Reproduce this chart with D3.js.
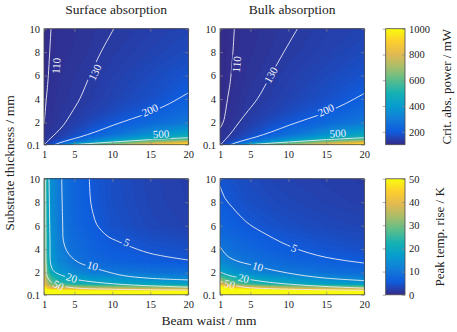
<!DOCTYPE html>
<html>
<head>
<meta charset="utf-8">
<script src="https://cdn.jsdelivr.net/npm/d3@7"></script>
<style>
  body { margin: 0; background: #fff; }
  svg { display: block; }
  text { font-family: 'Liberation Serif', 'Times New Roman', serif; fill: #222; }
</style>
</head>
<body>
<svg id="svg" width="457" height="332"></svg>
<script>
// ---- data ----
// sample grid: beam waist (mm) x substrate thickness (mm), rows from thinnest substrate up
const waist = [1, 1.5, 2, 3, 5, 7.5, 10, 15, 20];
const thick = [0.1, 0.3, 0.6, 1, 2, 3, 4, 6, 8, 10];

// critical absorbed power (mW), surface absorption
const surfPower = [
  128, 155, 180, 240, 480, 600, 680, 840, 980,
  126, 142, 160, 195, 290, 400, 510, 680, 790,
  122, 128, 133, 150, 203, 280, 350, 470, 545,
  118, 123, 127, 137, 165, 210, 260, 360, 450,
  109, 115, 120, 126, 140, 166, 190, 240, 290,
  107, 113, 117, 123, 131, 146, 162, 198, 240,
  105, 111, 115, 120, 127, 137, 150, 175, 210,
  104, 108, 113, 117, 124, 132, 142, 162, 184,
  102, 106, 111, 114, 119, 126, 134, 149, 164,
  102, 106, 110, 113, 117, 123, 129, 141, 152
];
// critical absorbed power (mW), bulk absorption
const bulkPower = [
  128, 155, 180, 240, 480, 600, 680, 840, 980,
  126, 140, 158, 195, 290, 400, 510, 680, 790,
  121, 126, 131, 148, 203, 280, 350, 470, 545,
  116, 120, 124, 135, 165, 210, 260, 360, 450,
  107, 111, 115, 123, 140, 166, 190, 240, 290,
  104, 108, 112, 118, 131, 146, 162, 198, 240,
  103, 106, 110, 115, 128, 137, 150, 175, 208,
  102, 105, 108, 112, 121, 130, 140, 160, 182,
  101, 104, 107, 111, 117, 124, 132, 147, 162,
  101, 104, 106, 110, 115, 121, 127, 140, 150
];
// peak temperature rise (K), surface absorption
const surfTemp = [
  100, 90, 85, 80, 78, 76, 75, 74, 73,
  75, 66, 62, 60, 58, 56, 55, 54, 53,
  52, 44, 42, 40, 39, 38, 38, 37, 36,
  42, 34, 30, 26, 23, 21, 20, 19, 18,
  36, 26, 20, 16, 13, 11, 10.4, 9.6, 9.0,
  33, 22, 16.5, 12.8, 9.6, 7.6, 6.5, 5.6, 5.0,
  31, 20.5, 15.5, 11.8, 8.4, 6.5, 5.5, 4.6, 4.1,
  30, 19.5, 14.5, 10.8, 7.4, 5.5, 4.3, 3.2, 2.6,
  29, 19, 14, 10.6, 7.1, 5.1, 4.0, 2.9, 2.3,
  29, 19, 14, 10.5, 7.0, 5.0, 3.9, 2.8, 2.2
];
// peak temperature rise (K), bulk absorption
const bulkTemp = [
  110, 105, 100, 95, 90, 85, 82, 78, 75,
  85, 80, 76, 72, 68, 64, 61, 58, 55,
  58, 54, 51, 48, 45, 42, 40, 38, 36,
  40, 36, 33, 29, 25, 22, 20.5, 18.5, 17,
  19.5, 18, 17, 15.3, 13.3, 11.6, 10.5, 9.0, 8.2,
  13.5, 12.5, 11.8, 10.7, 9.3, 8.0, 7.1, 6.1, 5.4,
  10.4, 9.8, 9.3, 8.4, 7.3, 6.3, 5.6, 4.7, 4.1,
  7.0, 6.6, 6.3, 5.8, 5.0, 4.4, 3.9, 3.3, 2.9,
  5.6, 5.3, 5.1, 4.6, 4.0, 3.5, 3.1, 2.6, 2.2,
  4.9, 4.6, 4.4, 4.0, 3.5, 3.0, 2.7, 2.2, 1.9
];

// contour lines [waist, thickness]
const surfPowerLines = [
  {level: 110, pts: [[1,1.9],[1.12,2.6],[1.3,4],[1.45,5],[1.57,6],[1.75,8],[1.92,10]]},
  {level: 130, pts: [[1.05,0.1],[1.4,0.35],[1.8,0.6],[2.6,1.1],[3.55,1.76],[4.6,2.8],[5.74,4.05],[7.06,6.05],[8.5,8],[10.2,10]]},
  {level: 200, pts: [[2.4,0.1],[3.1,0.27],[4.3,0.5],[5.74,0.76],[7.8,1.2],[10.1,1.76],[12.5,2.3],[14.95,2.85],[17.5,3.6],[20,4.53]]},
  {level: 500, pts: [[4.9,0.1],[7,0.2],[10.1,0.33],[15,0.53],[20,0.7]]}
];
const bulkPowerLines = [
  {level: 110, pts: [[1,1.5],[1.44,2.05],[1.75,3],[2.0,4.05],[2.25,5],[2.45,6.05],[2.7,8],[2.89,10]]},
  {level: 130, pts: [[1.1,0.1],[1.5,0.4],[2.0,0.75],[2.7,1.3],[3.55,2.05],[4.7,3],[5.96,4.05],[7.7,6.05],[9.4,8],[11.2,10]]},
  {level: 200, pts: [[2.4,0.1],[3.1,0.27],[4.3,0.5],[5.74,0.76],[7.8,1.2],[10.1,1.76],[12.5,2.3],[14.95,2.85],[17.5,3.6],[20,4.48]]},
  {level: 500, pts: [[4.9,0.1],[7,0.2],[10.1,0.33],[15,0.53],[20,0.7]]}
];
const surfTempLines = [
  {level: 5, pts: [[6.97,10],[7.14,8.1],[7.49,6.97],[7.93,6.12],[8.59,5.56],[9.47,5.05],[10.57,4.71],[11.88,4.34],[14.95,3.64],[20,3.07]]},
  {level: 10, pts: [[3.33,10],[3.46,6.12],[3.55,4.71],[3.98,3.86],[4.64,3.3],[5.52,2.87],[7.06,2.5],[9.25,2.08],[11.44,1.74],[14.95,1.51],[20,1.37]]},
  {level: 20, pts: [[1.66,10],[1.79,4.71],[1.88,2.73],[2.23,2.16],[2.89,1.88],[4.86,1.46],[7.06,1.23],[11.44,0.98],[20,0.75]]},
  {level: 50, pts: [[1.22,10],[1.25,5],[1.28,2.5],[1.4,1.7],[1.83,1.25],[2.7,0.95],[4.86,0.7],[11.44,0.56],[20,0.5]]}
];
const bulkTempLines = [
  {level: 5, pts: [[1,9.37],[1.7,8.3],[2.67,7.54],[3.7,6.8],[4.86,6.12],[7.06,5.27],[9,4.6],[10.8,4.09],[12.8,3.65],[14.95,3.3],[17.5,3.02],[20,2.81]]},
  {level: 10, pts: [[1,4.2],[1.5,3.75],[2.1,3.35],[3.37,2.95],[4.86,2.7],[6,2.5],[8.4,2.15],[11.4,1.8],[15,1.52],[20,1.31]]},
  {level: 20, pts: [[1,2.05],[2.2,1.75],[4,1.5],[6.5,1.25],[8.64,1.09],[14,0.84],[20,0.67]]},
  {level: 50, pts: [[1,1.25],[1.6,1.12],[2.28,1.02],[3.5,0.82],[5,0.7],[10,0.58],[20,0.48]]}
];

// contour labels [level, waist, thickness]
const surfPowerLabels = [[110,2.62,6.84],[130,7.71,6.28],[200,14.96,3.05],[500,16.4,1.0]];
const bulkPowerLabels = [[110,3.2,6.96],[130,7.71,6.05],[200,14.96,3.05],[500,16.5,1.06]];
const surfTempLabels = [[5,11.89,4.57],[10,7.41,2.59],[20,4.65,1.54],[50,2.88,0.89]];
const bulkTempLabels = [[5,10.78,4.09],[10,5.96,2.5],[20,4.1,1.51],[50,2.25,1.0]];

const waistTicks = [1, 5, 10, 15, 20];
const thickTicks = [0.1, 2, 4, 6, 8, 10];
const powerTicks = [200, 400, 600, 800, 1000];
const tempTicks = [0, 10, 20, 30, 40, 50];
const powerRange = [100, 1000];
const tempRange = [0, 50];

const parula = ['#352a87','#0f5cdd','#127dd8','#079ccf','#15b1b4','#59bd8c','#a5be6b','#e1b952','#fcce2e','#f9fb0e'];

// ---- layout ----
const svg = d3.select('#svg');
const plotW = 144.3, plotH = 116;
const colX = [44, 220];
const rowY = [28.7, 178.8];
const cbX = 385.7, cbW = 19.3;

const parulaInterp = d3.piecewise(d3.interpolateRgb, parula);
const powerColor = d3.scaleSequential(parulaInterp).domain(powerRange).clamp(true);
const tempColor = d3.scaleSequential(parulaInterp).domain(tempRange).clamp(true);

const x = d3.scaleLinear().domain([1, 20]).range([0, plotW]);
const y = d3.scaleLinear().domain([0.1, 10]).range([plotH, 0]);
// grid index -> data value (non uniform grid)
const ix = d3.scaleLinear().domain(d3.range(waist.length)).range(waist).clamp(true);
const iy = d3.scaleLinear().domain(d3.range(thick.length)).range(thick).clamp(true);

const panels = [
  {id: 'sp', grid: surfPower, lines: surfPowerLines, labels: surfPowerLabels, color: powerColor, col: 0, row: 0},
  {id: 'bp', grid: bulkPower, lines: bulkPowerLines, labels: bulkPowerLabels, color: powerColor, col: 1, row: 0},
  {id: 'st', grid: surfTemp, lines: surfTempLines, labels: surfTempLabels, color: tempColor, col: 0, row: 1},
  {id: 'bt', grid: bulkTemp, lines: bulkTempLines, labels: bulkTempLabels, color: tempColor, col: 1, row: 1}
];

const defs = svg.append('defs');
defs.append('clipPath').attr('id', 'plotclip')
  .append('rect').attr('width', plotW).attr('height', plotH);

const proj = d3.geoTransform({
  point(a, b) { this.stream.point(x(ix(a - 0.5)), y(iy(b - 0.5))); }
});
const path = d3.geoPath(proj);
const line = d3.line().x(d => x(d[0])).y(d => y(d[1])).curve(d3.curveCatmullRom.alpha(0.5));

function styleAxis(sel) {
  sel.attr('font-family', null).attr('font-size', null);
  sel.select('.domain').remove();
  sel.selectAll('line').attr('stroke', '#8c8c8c').attr('stroke-width', 0.7);
  sel.selectAll('text').style('font-size', '10.5px').attr('fill', '#222');
}

function labelAngle(lines, lab) {
  const ln = lines.find(l => l.level === lab[0]);
  const px = x(lab[1]), py = y(lab[2]);
  let best = null, bd = Infinity;
  for (let i = 0; i < ln.pts.length - 1; i++) {
    const ax = x(ln.pts[i][0]), ay = y(ln.pts[i][1]);
    const bx = x(ln.pts[i + 1][0]), by = y(ln.pts[i + 1][1]);
    const d = Math.hypot((ax + bx) / 2 - px, (ay + by) / 2 - py);
    if (d < bd) { bd = d; best = [bx - ax, by - ay]; }
  }
  let a = Math.atan2(best[1], best[0]) * 180 / Math.PI;
  if (a > 90) a -= 180;
  if (a < -90) a += 180;
  return a;
}

panels.forEach(p => {
  const g = svg.append('g').attr('transform', `translate(${colX[p.col]},${rowY[p.row]})`);
  const body = g.append('g').attr('clip-path', 'url(#plotclip)');

  // heat map as stacked filled contour bands
  const [lo, hi] = p.color.domain();
  const step = (hi - lo) / 150;
  const thresholds = d3.range(lo, hi + step / 2, step);
  const bands = d3.contours().size([waist.length, thick.length]).thresholds(thresholds)(p.grid);
  body.selectAll('path.band').data(bands).join('path')
    .attr('class', 'band')
    .attr('d', path)
    .attr('fill', d => p.color(d.value + step / 2))
    .attr('stroke', d => p.color(d.value + step / 2))
    .attr('stroke-width', 0.3);

  // labels and mask gaps
  const mask = defs.append('mask').attr('id', 'mask-' + p.id)
    .attr('maskUnits', 'userSpaceOnUse').attr('x', -5).attr('y', -5).attr('width', plotW + 10).attr('height', plotH + 10);
  mask.append('rect').attr('x', -5).attr('y', -5).attr('width', plotW + 10).attr('height', plotH + 10).attr('fill', '#fff');

  const lineG = body.append('g').attr('mask', `url(#mask-${p.id})`);
  lineG.selectAll('path').data(p.lines).join('path')
    .attr('d', d => line(d.pts))
    .attr('fill', 'none')
    .attr('stroke', '#ececf4')
    .attr('stroke-width', 0.9);

  p.labels.forEach(lab => {
    const a = labelAngle(p.lines, lab);
    const tr = `translate(${x(lab[1])},${y(lab[2])}) rotate(${a})`;
    const t = g.append('text')
      .attr('transform', tr)
      .attr('text-anchor', 'middle')
      .attr('dy', '0.34em')
      .style('font-size', '11px')
      .style('fill', '#f2f2f8')
      .text(lab[0]);
    const w = t.node().getComputedTextLength();
    mask.append('rect').attr('transform', tr)
      .attr('x', -w / 2 - 1.5).attr('y', -4.8).attr('width', w + 3).attr('height', 9.6)
      .attr('fill', '#000');
  });

  // axes with inward ticks
  g.append('g').attr('transform', `translate(0,${plotH})`)
    .call(d3.axisBottom(x).tickValues(waistTicks).tickSize(-3).tickPadding(6)).call(styleAxis);
  g.append('g')
    .call(d3.axisTop(x).tickValues(waistTicks).tickSize(-3).tickFormat('')).call(styleAxis);
  g.append('g')
    .call(d3.axisLeft(y).tickValues(thickTicks).tickSize(-3).tickPadding(4).tickFormat(d => d)).call(styleAxis);
  g.append('g').attr('transform', `translate(${plotW},0)`)
    .call(d3.axisRight(y).tickValues(thickTicks).tickSize(-3).tickFormat('')).call(styleAxis);

  g.append('rect').attr('width', plotW).attr('height', plotH)
    .attr('fill', 'none').attr('stroke', '#4a4a4a').attr('stroke-width', 0.8);
});

// ---- colour bars ----
const grad = defs.append('linearGradient').attr('id', 'parula')
  .attr('x1', 0).attr('y1', 1).attr('x2', 0).attr('y2', 0);
grad.selectAll('stop').data(parula).join('stop')
  .attr('offset', (d, i) => i / (parula.length - 1))
  .attr('stop-color', d => d);

[
  {row: 0, domain: powerRange, ticks: powerTicks, label: 'Crit. abs. power / mW', lx: 450.5},
  {row: 1, domain: tempRange, ticks: tempTicks, label: 'Peak temp. rise / K', lx: 444}
].forEach(cb => {
  const g = svg.append('g').attr('transform', `translate(${cbX},${rowY[cb.row]})`);
  const s = d3.scaleLinear().domain(cb.domain).range([plotH, 0]);
  g.append('rect').attr('width', cbW).attr('height', plotH).attr('fill', 'url(#parula)');
  g.append('g').call(d3.axisRight(s).tickValues(cb.ticks).tickSize(-3).tickFormat('')).call(styleAxis);
  g.append('g').attr('transform', `translate(${cbW},0)`)
    .call(d3.axisRight(s).tickValues(cb.ticks).tickSize(-3).tickPadding(4).tickFormat(d => d)).call(styleAxis);
  g.append('rect').attr('width', cbW).attr('height', plotH)
    .attr('fill', 'none').attr('stroke', '#4a4a4a').attr('stroke-width', 0.8);
  svg.append('text')
    .attr('transform', `translate(${cb.lx},${rowY[cb.row] + plotH / 2}) rotate(-90)`)
    .attr('text-anchor', 'middle')
    .style('font-size', '13px')
    .text(cb.label);
});

// ---- titles and axis labels ----
svg.append('text').attr('x', colX[0] + plotW / 2).attr('y', 13.5)
  .attr('text-anchor', 'middle').style('font-size', '13.5px').text('Surface absorption');
svg.append('text').attr('x', colX[1] + plotW / 2).attr('y', 13.5)
  .attr('text-anchor', 'middle').style('font-size', '13.5px').text('Bulk absorption');
svg.append('text').attr('x', 209).attr('y', 325)
  .attr('text-anchor', 'middle').style('font-size', '13.5px').text('Beam waist / mm');
svg.append('text').attr('transform', 'translate(14,163) rotate(-90)')
  .attr('text-anchor', 'middle').style('font-size', '13.5px').text('Substrate thickness / mm');
</script>
</body>
</html>
